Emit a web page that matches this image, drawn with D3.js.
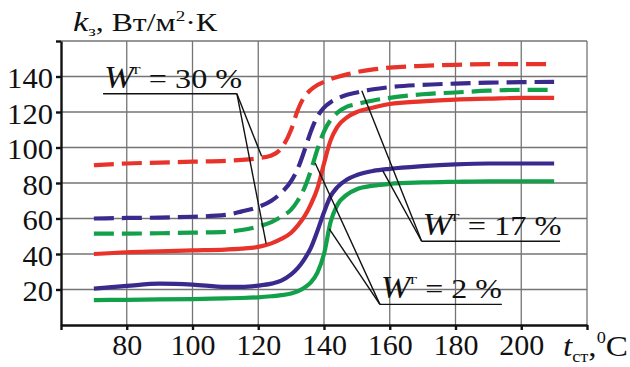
<!DOCTYPE html>
<html>
<head>
<meta charset="utf-8">
<script src="https://cdn.jsdelivr.net/npm/d3@7"></script>
<style>
  body { margin: 0; background: #fff; }
  svg { display: block; }
  .grid line { stroke: #747474; stroke-width: 1.3; }
  .axis path, .axis line { stroke: #111; stroke-width: 2.4; }
  .leader { stroke: #111; stroke-width: 1.4; fill: none; }
</style>
</head>
<body>
<div id="chart"></div>
<script>
var serif = "'Liberation Serif', 'Times New Roman', serif";

// wall temperature, deg C
var temps = [70, 80, 90, 100, 110, 115, 120, 124, 127, 130, 132, 134, 136, 138, 140,
             142, 144, 147, 150, 155, 160, 170, 180, 190, 200, 210];

// heat transfer coefficient k, W/m2 K
var red30dash = [90, 91, 91.5, 92, 92.5, 93, 94, 95.5, 99.5, 110, 121, 128.5, 132.5, 135.2, 137,
                 138.5, 139.7, 141.2, 142.5, 144, 145, 146, 146.6, 147, 147, 147];
var purple17dash = [60, 60.3, 60.5, 61, 62, 64, 66.5, 70, 74.5, 81, 88, 98, 109, 117.5, 122.5,
                    125.5, 127.5, 129.7, 131, 132.8, 134, 135.3, 136, 136.5, 136.8, 137];
var green2dash = [51.5, 51.5, 51.7, 52, 52.5, 53.5, 55.5, 58, 61, 65, 70, 77, 87, 99, 109,
                  115.5, 119.5, 123, 124.5, 126.5, 128, 130, 131, 132, 132.5, 132.5];
var red30 = [40, 41, 41.5, 42, 42.5, 43, 44, 46, 48.5, 52, 56, 61, 68, 77, 91,
             104, 111.5, 117, 120, 122.5, 124.5, 126, 127, 127.5, 128, 128];
var purple17 = [20.5, 22, 23.3, 22.8, 21.5, 21.5, 22.2, 23.3, 25, 28.5, 32, 37, 43.5, 53, 63.5,
                72.5, 77.5, 82, 84.5, 86.8, 88, 89.5, 90.5, 91, 91, 91];
var green2 = [14, 14.2, 14.4, 14.6, 15, 15.2, 15.6, 16.2, 16.8, 17.8, 19, 21, 24, 29.5, 40,
              58, 67.5, 73.5, 76.5, 78.5, 79.5, 80.3, 80.7, 81, 81, 81];

var xTicks = [80, 100, 120, 140, 160, 180, 200];
var yTicks = [20, 40, 60, 80, 100, 120, 140];

// moisture labels: text, underline start/end (t), underline level (k), leader targets [t, k]
var notes = [
  { w: "30 %", x0: 72.8, x1: 113.5, y: 130.3, corner: 113.5, width: 138,
    targets: [[121.0, 95.2], [122.4, 45.9]] },
  { w: "17 %", x0: 169.7, x1: 211.8, y: 47.2, corner: 169.7, width: 139,
    targets: [[151.5, 132], [157.9, 86.8]] },
  { w: "2 %", x0: 157.0, x1: 194.1, y: 11.6, corner: 157.0, width: 121,
    targets: [[137.3, 91.3], [141.6, 54.2]] }
];

var series = [
  { values: red30dash,    color: "#e8332a", dash: "20,8" },
  { values: purple17dash, color: "#3b2a8e", dash: "20,8" },
  { values: green2dash,   color: "#12a04a", dash: "20,8" },
  { values: red30,        color: "#e8332a", dash: null },
  { values: purple17,     color: "#3b2a8e", dash: null },
  { values: green2,       color: "#12a04a", dash: null }
];

function stretch(sel, w) {
  sel.attr("textLength", w).attr("lengthAdjust", "spacingAndGlyphs");
}

var svg = d3.select("#chart").append("svg")
    .attr("width", 630)
    .attr("height", 367)
    .attr("font-family", serif);

var x = d3.scaleLinear().domain([60, 220]).range([61, 587]),
    y = d3.scaleLinear().domain([0, 160]).range([325, 41]);

// grid, plus frame on top and right
var grid = svg.append("g").attr("class", "grid");
grid.selectAll(".vx")
  .data(xTicks.concat([220]))
  .enter().append("line")
    .attr("x1", function(d) { return x(d); })
    .attr("x2", function(d) { return x(d); })
    .attr("y1", y(0)).attr("y2", y(160));
grid.selectAll(".hy")
  .data(yTicks.concat([160]))
  .enter().append("line")
    .attr("x1", x(60)).attr("x2", x(220))
    .attr("y1", function(d) { return y(d); })
    .attr("y2", function(d) { return y(d); });

// curves
var line = d3.line()
    .x(function(d) { return x(d[0]); })
    .y(function(d) { return y(d[1]); })
    .curve(d3.curveMonotoneX);

svg.selectAll(".curve")
  .data(series)
  .enter().append("path")
    .attr("class", "curve")
    .attr("fill", "none")
    .attr("stroke", function(d) { return d.color; })
    .attr("stroke-width", 4.2)
    .attr("stroke-dasharray", function(d) { return d.dash; })
    .attr("d", function(d) { return line(d.values.map(function(v, i) { return [temps[i], v]; })); });

// axes
var gx = svg.append("g")
    .attr("class", "axis")
    .attr("transform", "translate(0," + y(0) + ")")
    .call(d3.axisBottom(x).tickValues([60].concat(xTicks, [220])).tickSize(5).tickSizeOuter(0)
          .tickFormat(function(d) { return (d === 60 || d === 220) ? "" : d; }))
    .attr("font-family", serif)
    .attr("font-size", 29);
gx.selectAll("text").attr("dy", "0.76em").attr("fill", "#111")
    .each(function(d) { if (d !== 60 && d !== 220) stretch(d3.select(this), 15 * String(d).length); });

var gy = svg.append("g")
    .attr("class", "axis")
    .attr("transform", "translate(" + x(60) + ",0)")
    .call(d3.axisLeft(y).tickValues(yTicks.concat([160])).tickSize(5).tickSizeOuter(0)
          .tickFormat(function(d) { return d === 160 ? "" : d; }))
    .attr("font-family", serif)
    .attr("font-size", 29);
gy.selectAll("text").attr("x", -8).attr("dy", "0.38em").attr("fill", "#111")
    .each(function(d) { if (d !== 160) stretch(d3.select(this), 15.3 * String(d).length); });

// leaders and labels
notes.forEach(function(n) {
  svg.append("line").attr("class", "leader")
    .attr("x1", x(n.x0)).attr("x2", x(n.x1))
    .attr("y1", y(n.y)).attr("y2", y(n.y));
  n.targets.forEach(function(t) {
    svg.append("line").attr("class", "leader")
      .attr("x1", x(n.corner)).attr("y1", y(n.y))
      .attr("x2", x(t[0])).attr("y2", y(t[1]));
  });
  var txt = svg.append("text")
    .attr("font-size", 28).attr("fill", "#111")
    .attr("x", x(n.x0) + 1).attr("y", y(n.y) - 6);
  txt.append("tspan").attr("font-style", "italic").attr("font-size", 31).text("W");
  txt.append("tspan").attr("font-size", 15).attr("dy", -14).text("г");
  txt.append("tspan").attr("dy", 14).text(" = " + n.w);
  stretch(txt, n.width);
});

// axis titles
var yt = svg.append("text").attr("x", 73).attr("y", 31).attr("font-size", 25).attr("fill", "#111");
yt.append("tspan").attr("font-style", "italic").attr("font-size", 27).text("k");
yt.append("tspan").attr("font-size", 15).attr("dy", 5).text("з");
yt.append("tspan").attr("dy", -5).text(", Вт/м");
yt.append("tspan").attr("font-size", 15).attr("dy", -10).text("2");
yt.append("tspan").attr("dy", 10).text("·К");
stretch(yt, 144);

var xt = svg.append("text").attr("x", 563).attr("y", 356).attr("font-size", 29).attr("fill", "#111");
xt.append("tspan").attr("font-style", "italic").text("t");
xt.append("tspan").attr("font-size", 16).attr("dy", 6).text("ст");
xt.append("tspan").attr("dy", -6).text(",");
xt.append("tspan").attr("font-size", 16).attr("dy", -13).text("0");
xt.append("tspan").attr("dy", 13).text("C");
stretch(xt, 65);
</script>
</body>
</html>
